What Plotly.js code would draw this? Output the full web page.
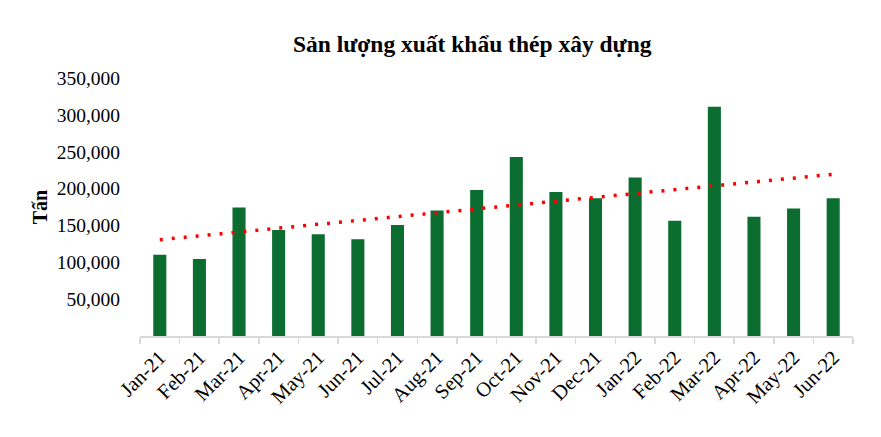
<!DOCTYPE html>
<html>
<head>
<meta charset="utf-8">
<script src="https://cdn.plot.ly/plotly-3.0.1.min.js"></script>
<style>html,body{margin:0;padding:0;background:#fff}#chart{width:881px;height:437px}</style>
</head>
<body>
<div id="chart"></div>
<script>
// Data (tonnes)
var months = ["Jan-21","Feb-21","Mar-21","Apr-21","May-21","Jun-21","Jul-21","Aug-21","Sep-21","Oct-21","Nov-21","Dec-21",
              "Jan-22","Feb-22","Mar-22","Apr-22","May-22","Jun-22"];
var exportTonnes = [110200,104600,174400,143700,138100,131200,150700,170200,198100,242800,195300,187000,
                    214900,156300,311100,161900,173000,187000];
var yTickValues = [50000,100000,150000,200000,250000,300000,350000];
var yTickLabels = ["50,000","100,000","150,000","200,000","250,000","300,000","350,000"];

// Linear trendline (least squares) as Excel draws it
var n = exportTonnes.length, sx = 0, sy = 0, sxx = 0, sxy = 0;
for (var i = 0; i < n; i++) { var xx = i + 1; sx += xx; sy += exportTonnes[i]; sxx += xx*xx; sxy += xx*exportTonnes[i]; }
var slope = (n*sxy - sx*sy) / (n*sxx - sx*sx);
var intercept = (sy - slope*sx) / n;
var trend = exportTonnes.map(function(_, i){ return intercept + slope*(i+1); });

var serif = "Liberation Serif, Times New Roman, serif";

var traces = [
  {type:"bar", x: months, y: exportTonnes, marker:{color:"#0B6D30"}, hoverinfo:"x+y"},
  {type:"scatter", mode:"lines", x: months, y: trend, line:{color:"#FF0000", width:3.5, dash:"3px,9px"}, hoverinfo:"skip"}
];

var layout = {
  width: 881, height: 437,
  margin: {l:140, r:28, t:78, b:101},
  paper_bgcolor:"#fff", plot_bgcolor:"#fff",
  showlegend:false,
  bargap:0.67,
  title:{text:"<b>Sản lượng xuất khẩu thép xây dựng</b>", font:{family:serif, size:23.5, color:"#000"},
         x:0.536, xref:"container", xanchor:"center", y:0.9, yref:"container", yanchor:"middle"},
  xaxis:{type:"category", showline:true, linecolor:"#D9D9D9", linewidth:1.5,
         ticks:"outside", tickson:"boundaries", ticklen:6, tickcolor:"#D9D9D9", tickwidth:1.5,
         tickangle:-45, tickfont:{family:serif, size:20.5, color:"#000"}, showgrid:false, zeroline:false,
         range:[-0.5, 17.5]},
  yaxis:{range:[0,350000], tickvals:yTickValues, ticktext:yTickLabels, showgrid:false, zeroline:false,
         showline:false, ticks:"outside", ticklen:15, tickcolor:"rgba(0,0,0,0)",
         tickfont:{family:serif, size:19.5, color:"#000"},
         title:{text:"<b>Tấn</b>", font:{family:serif, size:20, color:"#000"}, standoff:3}}
};

Plotly.newPlot("chart", traces, layout, {displayModeBar:false, staticPlot:true});
</script>
</body>
</html>
